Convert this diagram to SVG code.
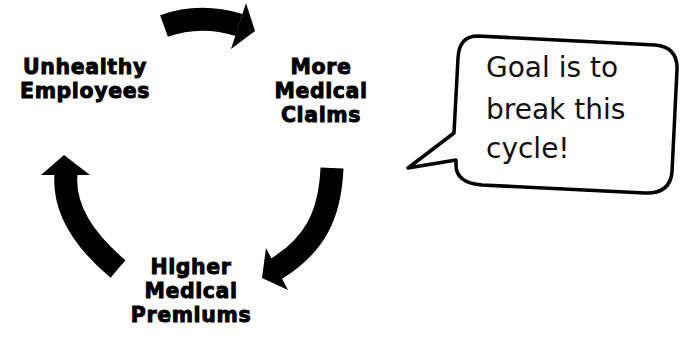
<svg xmlns="http://www.w3.org/2000/svg" width="687" height="339" viewBox="0 0 687 339">
<style>
.lbl{font-family:"DejaVu Sans","Liberation Sans",sans-serif;font-weight:bold;font-size:20.5px;letter-spacing:0.6px;fill:#000;stroke:#000;stroke-width:0.9;text-anchor:middle}
.body{fill:none;stroke:#000;stroke-width:23;stroke-linecap:butt}
.head{fill:#000}
.bub{fill:#fff;stroke:#000;stroke-width:3.5;stroke-linejoin:round}
.btxt{font-family:"DejaVu Sans","Liberation Sans",sans-serif;font-size:28px;fill:#111}
</style>
<rect width="687" height="339" fill="#fff"/>
<g id="connectors">
<path class="body" d="M164,26 Q200,13 239,25"/>
<polygon class="head" points="246,3 255,31 231,49"/>
<path class="body" d="M332,168 C330,215 315,245 276,269"/>
<polygon class="head" points="266,248 262,278 288,290"/>
<path class="body" d="M118,269 Q62,222 66,174"/>
<polygon class="head" points="41,175 64,155 90,175"/>
</g>
<g id="unhealthy">
<text class="lbl" x="85" y="74">Unhealthy</text>
<text class="lbl" x="85" y="98">Employees</text>
</g>
<g id="claims">
<text class="lbl" x="321" y="74">More</text>
<text class="lbl" x="321" y="98">Medical</text>
<text class="lbl" x="321" y="122">Claims</text>
</g>
<g id="premiums">
<text class="lbl" x="191" y="274">Higher</text>
<text class="lbl" x="191" y="298">Medical</text>
<text class="lbl" x="191" y="322">Premiums</text>
</g>
<g id="bubble">
<path class="bub" d="M478,36 L655,45 Q678,47 677,70 L672,172 Q670,194 645,193 L482,185 Q456,183 456,165 L456,160 L408,168 L454,133 L458,58 Q459,36 478,36 Z"/>
<text class="btxt" x="486" y="77">Goal is to</text>
<text class="btxt" x="486" y="119">break this</text>
<text class="btxt" x="486" y="158">cycle!</text>
</g>
</svg>
